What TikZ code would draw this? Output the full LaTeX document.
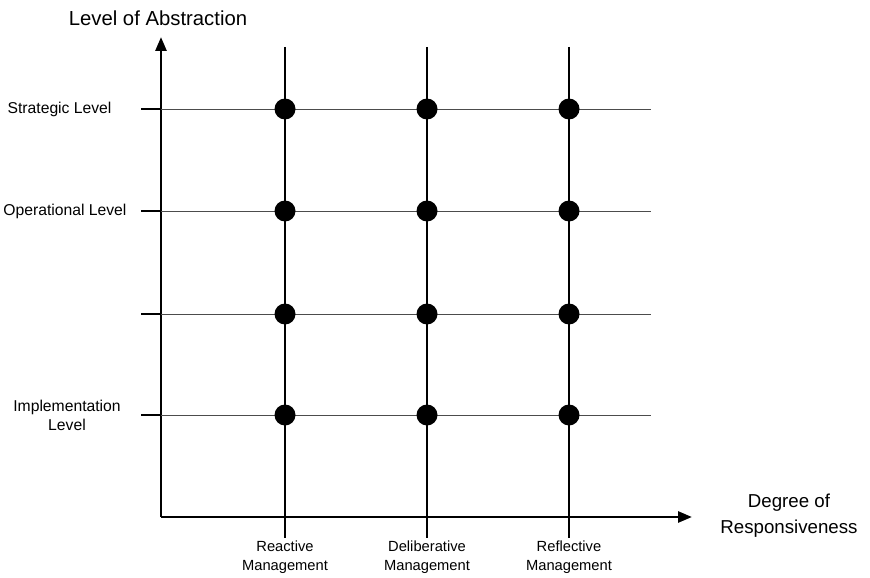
\documentclass[tikz,border=0pt]{standalone}
\usepackage{fontspec}
\setmainfont{Liberation Sans}
\usetikzlibrary{arrows.meta}
\begin{document}
\begin{tikzpicture}[x=1pt,y=-1pt,
  axis/.style={line width=2.7pt,-{Triangle[length=14pt,width=11pt]}},
  tickmark/.style={line width=2.7pt},
  hgrid/.style={line width=0.9pt,draw=black!70},
  vgrid/.style={line width=1.4pt},
  knot/.style={circle,fill=black,inner sep=0pt,minimum size=21pt},
  lbl/.style={font=\fontsize{15.7}{19}\selectfont,align=center},
  botlbl/.style={font=\fontsize{14.7}{18.5}\selectfont,align=center},
  biglbl/.style={font=\fontsize{20.3}{27}\selectfont,align=center},
  axislbl/.style={font=\fontsize{18.7}{26}\selectfont,align=center}]
\useasboundingbox (0,0) rectangle (870,578);
% axes
\coordinate (O) at (161,517);
\coordinate (ytip) at (161,37);
\coordinate (xtip) at (692,517);
\draw[axis] (O) -- (ytip);
\draw[axis] (O) -- (xtip);
\node[biglbl] (ytitle) at (158,18) {Level of Abstraction};
\node[axislbl] (xtitle) at (789,516) {Degree of\\Responsiveness};
% levels (rows)
\foreach \r/\y in {1/109,2/211,3/314,4/415}{
  \coordinate (tl\r) at (141,\y);
  \coordinate (ta\r) at (161,\y);
  \coordinate (he\r) at (651,\y);
  \draw[hgrid] (ta\r) -- (he\r);
  \draw[tickmark] (tl\r) -- (ta\r);
}
% management types (columns)
\foreach \c/\x in {1/285,2/427,3/569}{
  \coordinate (vt\c) at (\x,47);
  \coordinate (va\c) at (\x,517);
  \coordinate (vb\c) at (\x,538);
  \draw[vgrid] (vt\c) -- (va\c);
  \draw[tickmark] (va\c) -- (vb\c);
}
% row labels
\node[lbl,anchor=east] (strat) at (115,109) {Strategic Level};
\node[lbl,anchor=east] (oper) at (130,211) {Operational Level};
\node[lbl] (impl) at (67,415) {Implementation\\Level};
% column labels
\node[botlbl] (react) at (285,557) {Reactive\\Management};
\node[botlbl] (delib) at (427,557) {Deliberative\\Management};
\node[botlbl] (refl) at (569,557) {Reflective\\Management};
% grid points
\foreach \c/\x in {1/285,2/427,3/569}{
  \foreach \r/\y in {1/109,2/211,3/314,4/415}{
    \node[knot] (p\c\r) at (\x,\y) {};
  }
}
\end{tikzpicture}
\end{document}
